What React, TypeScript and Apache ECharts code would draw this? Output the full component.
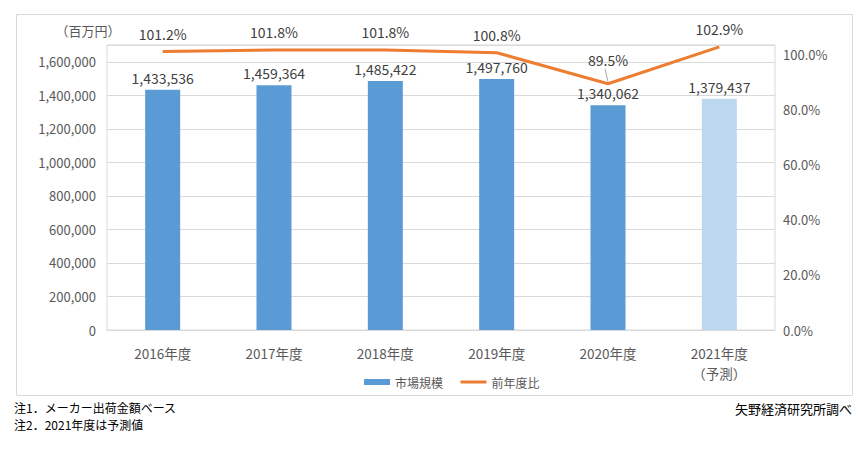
import React, { useEffect, useRef } from "react";
import * as echarts from "echarts";

const categories = ["2016年度", "2017年度", "2018年度", "2019年度", "2020年度", "2021年度"];
const marketSize = [1433536, 1459364, 1485422, 1497760, 1340062, 1379437];
const yoyRatio = [101.2, 101.8, 101.8, 100.8, 89.5, 102.9];
const forecastIndex = 5;
const leaderIndex = 4;
const unitLabel = "（百万円）";
const notes = ["注1．メーカー出荷金額ベース", "注2．2021年度は予測値"];
const sourceText = "矢野経済研究所調べ";

const FONT = '"Noto Sans CJK JP", "Noto Sans", sans-serif';
const GRAY = "#595959";
const GRID = "#d9d9d9";
const ORANGE = "#ed7d31";

export default function App() {
  const ref = useRef<HTMLDivElement>(null);
  useEffect(() => {
    if (!ref.current) return;
    const chart = echarts.init(ref.current, null, { renderer: "svg" });
    const option: any = {
      animation: false,
      textStyle: { fontFamily: FONT },
      grid: {
        left: 107,
        right: 87,
        top: 45,
        bottom: 141,
        show: true,
        borderColor: GRID,
        borderWidth: 1,
        containLabel: false,
      },
      legend: {
        left: 359,
        top: 371,
        itemWidth: 26,
        itemHeight: 6,
        itemGap: 16,
        textStyle: { color: GRAY, fontSize: 12, fontFamily: FONT },
        data: [
          { name: "市場規模", icon: "rect" },
          {
            name: "前年度比",
            itemStyle: { opacity: 0 },
            lineStyle: { color: ORANGE, width: 3 },
          },
        ],
      },
      xAxis: {
        type: "category",
        data: categories,
        axisLine: { show: true, lineStyle: { color: GRID } },
        axisTick: { show: false },
        axisLabel: {
          color: GRAY,
          fontSize: 13.5,
          lineHeight: 20,
          margin: 13,
          fontFamily: FONT,
          formatter: (v: string, i: number) => (i === forecastIndex ? v + "\n（予測）" : v),
        },
      },
      yAxis: [
        {
          type: "value",
          min: 0,
          max: 1700000,
          interval: 200000,
          axisLine: { show: false },
          axisTick: { show: false },
          splitLine: { show: true, lineStyle: { color: GRID } },
          axisLabel: {
            color: GRAY,
            fontSize: 13,
            margin: 11,
            fontFamily: FONT,
            showMaxLabel: false,
            formatter: (v: number) => v.toLocaleString("en-US"),
          },
        },
        {
          type: "value",
          min: 0,
          max: 103.6,
          interval: 20,
          axisLine: { show: false },
          axisTick: { show: false },
          splitLine: { show: false },
          axisLabel: {
            color: GRAY,
            fontSize: 13,
            margin: 8,
            fontFamily: FONT,
            showMaxLabel: false,
            formatter: (v: number) => v.toFixed(1) + "%",
          },
        },
      ],
      series: [
        {
          name: "市場規模",
          type: "bar",
          yAxisIndex: 0,
          barWidth: 35,
          itemStyle: { color: "#5b9bd5" },
          label: {
            show: true,
            position: "top",
            distance: 5,
            color: "#404040",
            fontSize: 14,
            fontFamily: FONT,
            formatter: (p: any) => Number(p.value).toLocaleString("en-US"),
          },
          data: marketSize.map((v, i) =>
            i === forecastIndex ? { value: v, itemStyle: { color: "#bdd7ee" } } : v
          ),
        },
        {
          name: "前年度比",
          type: "line",
          yAxisIndex: 1,
          symbol: "circle",
          symbolSize: 1,
          showSymbol: true,
          color: ORANGE,
          itemStyle: { color: "rgba(237,125,49,0)" },
          lineStyle: { color: ORANGE, width: 3 },
          z: 3,
          label: {
            show: true,
            position: "top",
            distance: 10,
            opacity: 1,
            color: "#404040",
            fontSize: 14,
            fontFamily: FONT,
            formatter: (p: any) => Number(p.value).toFixed(1) + "%",
          },
          data: yoyRatio.map((v, i) =>
            i === leaderIndex ? { value: v, label: { distance: 16 } } : v
          ),
        },
      ],
      graphic: [
        {
          type: "rect",
          shape: { x: 16.5, y: 14.5, width: 836, height: 381 },
          style: { fill: "none", stroke: GRID, lineWidth: 1 },
          silent: true,
        },
        {
          type: "text",
          x: 88,
          y: 30,
          style: {
            text: unitLabel,
            fill: GRAY,
            fontSize: 13,
            fontFamily: FONT,
            textAlign: "center",
            textVerticalAlign: "middle",
          },
        },
        {
          type: "text",
          x: 14,
          y: 407,
          style: {
            text: notes[0],
            fill: "#000000",
            fontSize: 12,
            fontFamily: FONT,
            textAlign: "left",
            textVerticalAlign: "middle",
          },
        },
        {
          type: "text",
          x: 14,
          y: 424,
          style: {
            text: notes[1],
            fill: "#000000",
            fontSize: 12,
            fontFamily: FONT,
            textAlign: "left",
            textVerticalAlign: "middle",
          },
        },
        {
          type: "text",
          x: 852,
          y: 408,
          style: {
            text: sourceText,
            fill: "#000000",
            fontSize: 13,
            fontFamily: FONT,
            textAlign: "right",
            textVerticalAlign: "middle",
          },
        },
      ],
    };
    chart.setOption(option);
    const p = chart.convertToPixel({ xAxisIndex: 0, yAxisIndex: 1 } as any, [
      leaderIndex,
      yoyRatio[leaderIndex],
    ]) as number[];
    if (p && isFinite(p[0]) && isFinite(p[1])) {
      chart.setOption({
        graphic: [
          {
            id: "leader",
            type: "line",
            shape: { x1: p[0] - 3, y1: p[1] - 15, x2: p[0], y2: p[1] - 2 },
            style: { stroke: "#a6a6a6", lineWidth: 1 },
            silent: true,
            z: 2,
          },
        ],
      });
    }
    return () => chart.dispose();
  }, []);
  return (
    <div
      ref={ref}
      style={{ position: "fixed", left: 0, top: 0, width: 862, height: 471, background: "#ffffff" }}
    />
  );
}
